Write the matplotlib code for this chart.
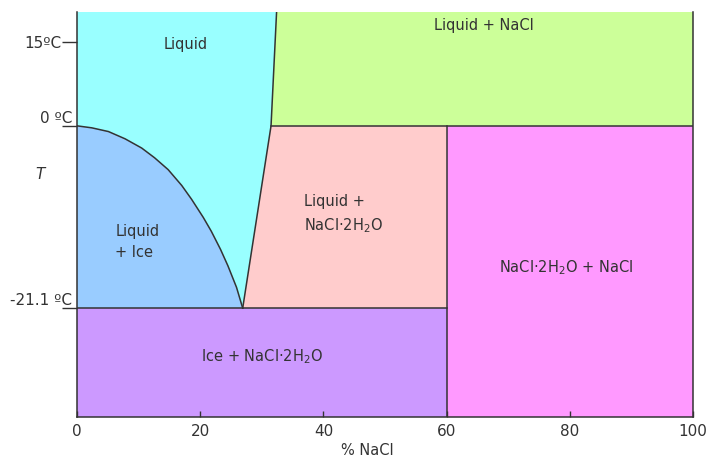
import numpy as np
import matplotlib.pyplot as plt
from matplotlib.patches import Polygon

plt.rcParams['font.family'] = ['DejaVu Sans']
plt.rcParams['mathtext.default'] = 'regular'

# compositions (% NaCl) and temperatures (deg C)
t_top = 20.4
t_bottom = -33.7
t_eutectic = -21.1
x_dihydrate = 60.0
x_peritectic = 31.5
x_sol_top = 32.4
liquidus_x = [0, 2.4, 5.1, 7.8, 10.5, 12.6, 14.8, 17.0, 18.6, 20.5, 21.8,
              23.3, 24.5, 25.9, 26.9]
liquidus_t = [0, -0.23, -0.66, -1.5, -2.57, -3.7, -5.07, -6.9, -8.5, -10.6,
              -12.2, -14.3, -16.2, -18.7, -21.1]

tick_x = [0, 20, 40, 60, 80, 100]
tick_t = [15, 0, -21.1]
tick_t_labels = ['15ºC', '0 ºC', '-21.1 ºC']

colors = {
    'liq': '#99ffff', 'liq_nacl': '#ccff99', 'liq_ice': '#99ccff',
    'liq_dih': '#ffcccc', 'dih_nacl': '#ff99ff', 'ice_dih': '#cc99ff',
}


def fwd(t):
    t = np.asarray(t, dtype=float)
    return np.where(t >= 0, t * 5.6, t * 8.67)


def inv(y):
    y = np.asarray(y, dtype=float)
    return np.where(y >= 0, y / 5.6, y / 8.67)


fig = plt.figure(figsize=(7.06, 4.59), dpi=100)
ax = fig.add_axes([77 / 706, 42 / 459, 616 / 706, 405 / 459])
ax.set_yscale('function', functions=(fwd, inv))
ax.set_xlim(0, 100)
ax.set_ylim(t_bottom, t_top)

ex, et = liquidus_x[-1], liquidus_t[-1]
curve = list(zip(liquidus_x, liquidus_t))
regions = [
    ('liq', [(0, t_top), (0, 0)] + curve + [(x_peritectic, 0), (x_sol_top, t_top)]),
    ('liq_nacl', [(x_sol_top, t_top), (x_peritectic, 0), (100, 0), (100, t_top)]),
    ('liq_ice', [(0, t_eutectic)] + curve),
    ('liq_dih', [(ex, et), (x_peritectic, 0), (x_dihydrate, 0), (x_dihydrate, t_eutectic)]),
    ('dih_nacl', [(x_dihydrate, t_bottom), (x_dihydrate, 0), (100, 0), (100, t_bottom)]),
    ('ice_dih', [(0, t_bottom), (0, t_eutectic), (x_dihydrate, t_eutectic), (x_dihydrate, t_bottom)]),
]
for key, pts in regions:
    ax.add_patch(Polygon(pts, closed=True, facecolor=colors[key], edgecolor='none'))

lc = '#333333'
lw = 1.1
ax.plot(liquidus_x, liquidus_t, color=lc, lw=lw)
ax.plot([ex, x_peritectic, x_sol_top], [et, 0, t_top], color=lc, lw=lw)
ax.plot([x_peritectic, 100], [0, 0], color=lc, lw=lw)
ax.plot([0, x_dihydrate], [t_eutectic, t_eutectic], color=lc, lw=lw)
ax.plot([x_dihydrate, x_dihydrate], [t_bottom, 0], color=lc, lw=lw)

for s in ['left', 'right', 'bottom']:
    ax.spines[s].set_color(lc)
    ax.spines[s].set_linewidth(lw)
ax.spines['top'].set_visible(False)

tc = '#333333'
ax.set_xticks(tick_x)
ax.tick_params(axis='x', direction='in', length=4, width=1, color=lc,
               labelsize=11, labelcolor=tc, pad=5)
ax.set_yticks(tick_t, labels=[tick_t_labels[0], '', ''])
ax.tick_params(axis='y', direction='out', length=11, width=1, color=lc,
               labelsize=11, labelcolor=tc, pad=0)
for t, lab in zip(tick_t[1:], tick_t_labels[1:]):
    ax.text(-0.008, t, lab, transform=ax.get_yaxis_transform(), ha='right',
            va='bottom', fontsize=11, color=tc)
ax.text(-0.06, -5.65, 'T', transform=ax.get_yaxis_transform(), ha='center',
        va='center', fontsize=11, style='italic', color=tc)
ax.set_xlabel('% NaCl', fontsize=10.5, color=tc)
ax.xaxis.set_label_coords(0.472, -0.063)

fs = 10.5
ax.text(17.7, 14.6, 'Liquid', ha='center', va='center', fontsize=fs, color=tc)
ax.text(66, 17.9, 'Liquid + NaCl', ha='center', va='center', fontsize=fs, color=tc)
ax.text(6.2, -13.4, 'Liquid\n+ Ice', ha='left', va='center', fontsize=fs,
        color=tc, linespacing=1.5)
ax.text(36.8, -10.3, 'Liquid +\nNaCl·2H$_2$O', ha='left', va='center',
        fontsize=fs, color=tc, linespacing=1.5)
ax.text(79.4, -16.4, 'NaCl·2H$_2$O + NaCl', ha='center', va='center',
        fontsize=fs, color=tc)
ax.text(30, -26.75, 'Ice + NaCl·2H$_2$O', ha='center', va='center',
        fontsize=fs, color=tc)

fig.savefig('out.png', dpi=100)
